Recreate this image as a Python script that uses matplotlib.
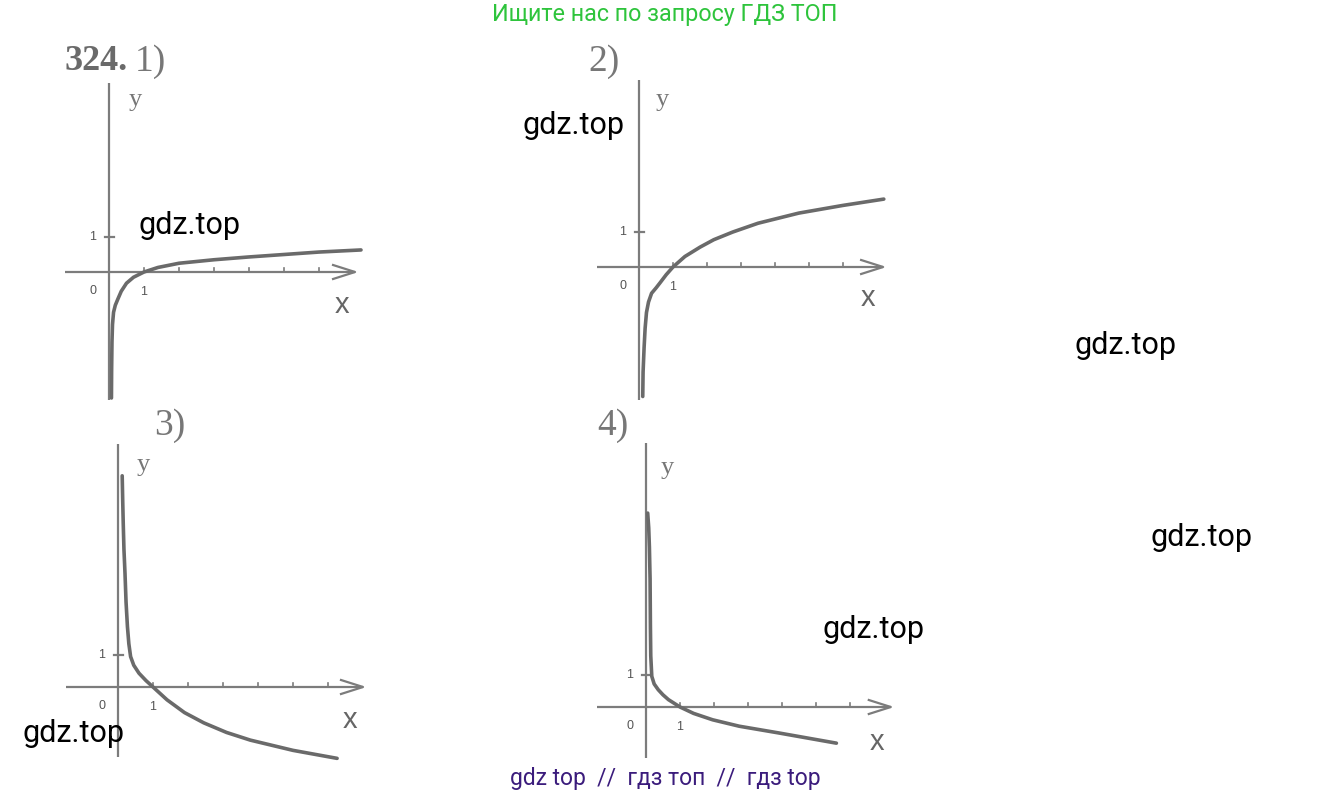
import matplotlib
matplotlib.use("Agg")

import matplotlib.pyplot as plt


W, H = 1331, 798

# curve points (x, y in panel units)
p1_x = [0.07, 0.075, 0.085, 0.1, 0.13, 0.18, 0.25, 0.35, 0.5, 0.7, 1, 1.4, 2, 3, 4, 5, 6, 7.2]
p1_y = [-3.6, -2.8, -2.0, -1.5, -1.15, -0.95, -0.78, -0.55, -0.32, -0.15, 0, 0.13, 0.25,
        0.35, 0.43, 0.5, 0.57, 0.63]

p2_x = [0.11, 0.12, 0.15, 0.18, 0.22, 0.28, 0.37, 0.5, 0.62, 0.8, 1, 1.35, 1.8, 2.2, 2.76,
        3.5, 4.7, 6, 7.2]
p2_y = [-3.7, -3.0, -2.3, -1.75, -1.3, -1.0, -0.75, -0.6, -0.45, -0.22, 0, 0.3, 0.57, 0.78,
        1.0, 1.25, 1.54, 1.76, 1.94]

p3_x = [0.12, 0.135, 0.15, 0.17, 0.2, 0.23, 0.27, 0.31, 0.36, 0.45, 0.6, 0.8, 1, 1.4, 1.9,
        2.45, 3.1, 3.78, 5, 6.26]
p3_y = [6.6, 5.8, 5.1, 4.3, 3.55, 2.65, 1.88, 1.35, 0.95, 0.68, 0.43, 0.2, 0, -0.4, -0.8,
        -1.12, -1.42, -1.66, -1.98, -2.23]

p4_x = [0.05, 0.08, 0.1, 0.12, 0.13, 0.14, 0.17, 0.24, 0.36, 0.5, 0.66, 1, 1.4, 1.96, 2.74,
        3.9, 5.6]
p4_y = [6.06, 5.6, 5.0, 4.0, 2.5, 1.6, 0.96, 0.72, 0.54, 0.38, 0.23, 0, -0.2, -0.4, -0.6,
        -0.81, -1.13]

panel_labels = ["1)", "2)", "3)", "4)"]

# layout of each panel in pixels: origin, unit sizes, axis extents (in units)
panels = [
    dict(x=p1_x, y=p1_y, ox=109, oy=272, ux=35, uy=35, xa=(-1.25, 7.03), ya=(-3.66, 5.4),
         lab=(135, 62), ylab=(135, 100), xlab=(342, 305)),
    dict(x=p2_x, y=p2_y, ox=639, oy=267, ux=34, uy=35, xa=(-1.24, 7.18), ya=(-3.8, 5.34),
         lab=(588, 62), ylab=(662, 100), xlab=(868, 298)),
    dict(x=p3_x, y=p3_y, ox=118, oy=687, ux=35, uy=32, xa=(-1.5, 7.0), ya=(-2.2, 7.6),
         lab=(154, 426), ylab=(143, 465), xlab=(350, 720)),
    dict(x=p4_x, y=p4_y, ox=646, oy=707, ux=34, uy=32, xa=(-1.45, 7.2), ya=(-1.6, 8.25),
         lab=(597, 426), ylab=(667, 468), xlab=(877, 742)),
]

curve_color = "#6a6a6a"
axis_color = "#7c7c7c"

fig = plt.figure(figsize=(W / 100, H / 100), dpi=100)
fig.patch.set_facecolor("white")

for i, p in enumerate(panels):
    x0, x1 = -2.0, 8.0
    y0, y1 = p["ya"][0] - 0.4, p["ya"][1] + 0.4
    left = (p["ox"] + x0 * p["ux"]) / W
    bottom = (H - (p["oy"] - y0 * p["uy"])) / H
    width = (x1 - x0) * p["ux"] / W
    height = (y1 - y0) * p["uy"] / H
    ax = fig.add_axes([left, bottom, width, height])
    ax.set_xlim(x0, x1)
    ax.set_ylim(y0, y1)
    ax.axis("off")
    ax.patch.set_alpha(0)

    # axes
    ax.plot(p["xa"], [0, 0], color=axis_color, lw=1.6, solid_capstyle="butt")
    ax.plot([0, 0], p["ya"], color=axis_color, lw=1.6, solid_capstyle="butt")
    tip = p["xa"][1]
    al, aw = 22 / p["ux"], 7 / p["uy"]
    ax.plot([tip - al, tip, tip - al], [aw, 0, -aw], color=axis_color, lw=1.6)

    # ticks
    for k in range(1, 7):
        ax.plot([k, k], [0, 4 / p["uy"]], color=axis_color, lw=1.2)
    ax.plot([-4 / p["ux"], 5 / p["ux"]], [1, 1], color=axis_color, lw=1.6)

    ax.text(-16 / p["ux"], -19 / p["uy"], "0", fontsize=9, family="Liberation Sans",
            color="#555555", ha="center", va="center")
    ax.text(1, -20 / p["uy"], "1", fontsize=9, family="Liberation Sans",
            color="#555555", ha="center", va="center")
    ax.text(-16 / p["ux"], 1, "1", fontsize=9, family="Liberation Sans",
            color="#555555", ha="center", va="center")

    # curve
    ax.plot(p["x"], p["y"], color=curve_color, lw=2.6, solid_capstyle="round",
            solid_joinstyle="round")

    # labels in pixel positions
    fig.text(p["lab"][0] / W, 1 - p["lab"][1] / H, panel_labels[i], fontsize=27,
             family="Liberation Serif", color="#777777", ha="left", va="center")
    fig.text(p["ylab"][0] / W, 1 - p["ylab"][1] / H, "y", fontsize=19,
             family="Liberation Serif", color="#777777", ha="center", va="center")
    fig.text(p["xlab"][0] / W, 1 - p["xlab"][1] / H, "x", fontsize=21,
             family="Liberation Sans", color="#666666", ha="center", va="center")

fig.text(65 / W, 1 - 62 / H, "324.", fontsize=26, family="Liberation Serif",
         fontweight="bold", color="#6a6a6a", ha="left", va="center")

# watermarks
marks = [(190, 226), (574, 126), (1126, 346), (1202, 538), (874, 630), (73, 734)]
for mx, my in marks:
    fig.text(mx / W, 1 - my / H, "gdz.top", fontsize=22, family="Roboto",
             color="black", ha="center", va="center")

fig.text(665 / W, 1 - 15 / H, "Ищите нас по запросу ГДЗ ТОП", fontsize=16.8,
         family="Roboto", color="#2ec43c", ha="center", va="center")
fig.text(665 / W, 1 - 779 / H, "gdz top  //  гдз топ  //  гдз top", fontsize=16.5,
         family="Roboto", color="#3b1c7c", ha="center", va="center")

fig.savefig("out.png", dpi=100)
